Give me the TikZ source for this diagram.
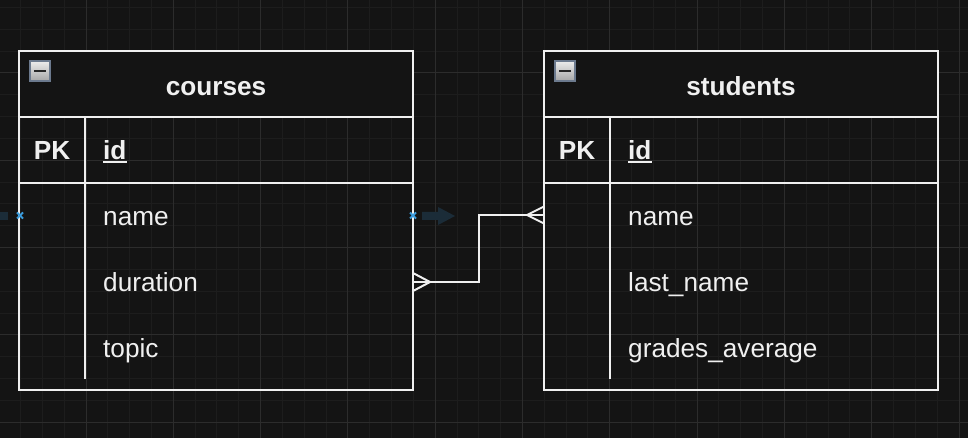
\documentclass[tikz,border=0pt]{standalone}
\usepackage{fontspec}
\setmainfont{Liberation Sans}
\definecolor{bg}{HTML}{141414}
\definecolor{gminor}{HTML}{1D1D1D}
\definecolor{gmajor}{HTML}{2C2C2C}
\definecolor{ink}{HTML}{F0F0F0}
\definecolor{hint}{HTML}{3A9BDC}
\definecolor{ghost}{HTML}{1B2C38}
\definecolor{iconborder}{HTML}{6C7A8E}
\tikzset{
  minorgrid/.style={gminor, line width=1},
  majorgrid/.style={gmajor, line width=1},
  tline/.style={ink, line width=2},
  cell/.style={anchor=base west, inner sep=0pt, text=ink, font=\fontsize{26.2}{30}\selectfont},
  pkcell/.style={anchor=base, inner sep=0pt, text=ink, font=\fontsize{26.2}{30}\selectfont\bfseries},
  title/.style={anchor=base, inner sep=0pt, text=ink, font=\fontsize{26.2}{30}\selectfont\bfseries},
  rel/.style={ink, line width=2},
  hintx/.style={hint, line width=1.8},
}
\begin{document}
\begin{tikzpicture}[x=1pt,y=-1pt]
\useasboundingbox (0,0) rectangle (968,438);
\fill[bg] (0,0) rectangle (968,438);
% grid
\foreach \i in {0,...,45} \draw[minorgrid] ({-1.3+\i*21.825},0) -- ++(0,438);
\foreach \j in {0,...,21} \draw[minorgrid] (0,{-14.3+\j*21.825}) -- ++(968,0);
\foreach \i in {0,...,11} \draw[majorgrid] ({-1.3+\i*87.3},0) -- ++(0,438);
\foreach \j in {0,...,5} \draw[majorgrid] (0,{-14.3+\j*87.3}) -- ++(968,0);

% ghost arrows and hint markers
\fill[ghost] (0,212) rectangle (8,220);
\fill[ghost] (422,212) -- (438,212) -- (438,207) -- (455,216) -- (438,225) -- (438,220) -- (422,220) -- cycle;

% ---------- table courses ----------
\fill[bg] (19,51) rectangle (413,117);
\draw[tline] (19,51) rectangle (413,390);
\draw[tline] (19,117) -- (413,117);
\draw[tline] (19,183) -- (413,183);
\draw[tline] (85,117) -- (85,379);
\shade[top color=white!85!gray, bottom color=gray!70, draw=iconborder, line width=1.6] (30,61) rectangle (50,81);
\draw[black!85, line width=2.2] (34,71) -- (46,71);
\node[title] (ctitle) at (216,95.4) {courses};
\node[pkcell] (cpk) at (52,159.4) {PK};
\node[cell, font=\fontsize{26.2}{30}\selectfont\bfseries] (cid) at (103,159.4) {id};
\draw[ink, line width=1.8] ([yshift=-2.8pt]cid.base west) -- ([yshift=-2.8pt]cid.base east);
\node[cell] (cname) at (103,225.4) {name};
\node[cell] (cdur) at (103,291.4) {duration};
\node[cell] (ctopic) at (103,357.4) {topic};

% ---------- table students ----------
\fill[bg] (544,51) rectangle (938,117);
\draw[tline] (544,51) rectangle (938,390);
\draw[tline] (544,117) -- (938,117);
\draw[tline] (544,183) -- (938,183);
\draw[tline] (610,117) -- (610,379);
\shade[top color=white!85!gray, bottom color=gray!70, draw=iconborder, line width=1.6] (555,61) rectangle (575,81);
\draw[black!85, line width=2.2] (559,71) -- (571,71);
\node[title] (stitle) at (741,95.4) {students};
\node[pkcell] (spk) at (577,159.4) {PK};
\node[cell, font=\fontsize{26.2}{30}\selectfont\bfseries] (sid) at (628,159.4) {id};
\draw[ink, line width=1.8] ([yshift=-2.8pt]sid.base west) -- ([yshift=-2.8pt]sid.base east);
\node[cell] (sname) at (628,225.4) {name};
\node[cell] (slast) at (628,291.4) {last\_name};
\node[cell] (sgrade) at (628,357.4) {grades\_average};

% ---------- relationship ----------
\coordinate (pc) at (413,282);
\coordinate (ps) at (544,215);
\coordinate (fc) at (430,282);
\coordinate (fs) at (527,215);
\draw[rel] (pc) -- (479,282) -- (479,215) -- (ps);
\draw[rel] (413,273) -- (fc) -- (413,291);
\draw[rel] (544,206.5) -- (fs) -- (544,223.5);

% hint crosses
\coordinate (hl) at (20,215.5);
\coordinate (hr) at (413,215.5);
\draw[hintx] ([shift={(-3,-3)}]hl) -- ([shift={(3,3)}]hl) ([shift={(-3,3)}]hl) -- ([shift={(3,-3)}]hl);
\draw[hintx] ([shift={(-3,-3)}]hr) -- ([shift={(3,3)}]hr) ([shift={(-3,3)}]hr) -- ([shift={(3,-3)}]hr);
\end{tikzpicture}
\end{document}
